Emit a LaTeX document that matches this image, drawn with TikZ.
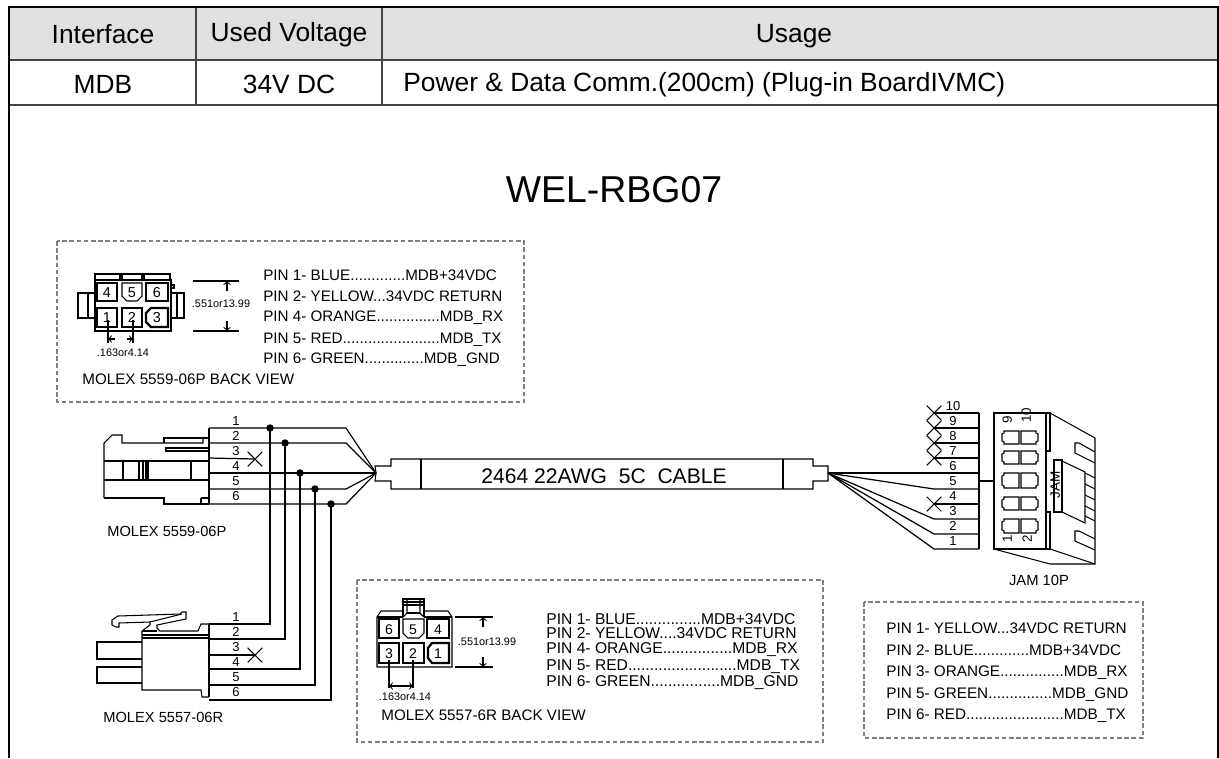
\documentclass[tikz,border=0pt]{standalone}
\usepackage{fontspec}
\setmainfont{Liberation Sans}
\usetikzlibrary{shapes.misc}
\definecolor{headgray}{HTML}{E0E0E0}
\definecolor{gridgray}{HTML}{444444}
\definecolor{dashgray}{HTML}{808080}
\tikzset{
  txt/.style={font=\fontsize{#1}{#1}\selectfont, inner sep=0pt, text height=0.72*#1pt, text depth=0pt},
  wire/.style={line width=0.7pt, black},
  body/.style={line width=0.6pt, black},
  heavy/.style={line width=1.3pt, black},
  dashbox/.style={dashgray, line width=1.3pt, dash pattern=on 2.6pt off 1.5pt},
  wiredot/.style={circle, fill=black, inner sep=0pt, minimum size=0.15cm},
  nocon/.style={cross out, draw=black, line width=0.6pt, inner sep=0pt, minimum size=0.27cm},
  gridline/.style={gridgray, line width=0.9pt}
}
\begin{document}
\begin{tikzpicture}[x=0.02cm,y=-0.02cm]
    \useasboundingbox (0,0) rectangle (1219,758);

    % Table head
    \fill[headgray] (9,7) rectangle (1218,60);
    \draw[gridline] (9,60) -- (1218,60);
    \draw[gridline] (9,105) -- (1218,105);
    \draw[gridline] (196,7) -- (196,105);
    \draw[gridline] (382,7) -- (382,105);
    \draw[black,line width=1.1pt] (9,758) -- (9,7) -- (1218,7) -- (1218,758);
    \node[txt=15] (headif) at (103,34) {Interface};
    \node[txt=15] (headvolt) at (289,32) {Used Voltage};
    \node[txt=15] (headuse) at (794,33) {Usage};
    \node[txt=15] (cellif) at (103,84) {MDB};
    \node[txt=15] (cellvolt) at (289,84) {34V DC};
    \node[txt=15,anchor=west] (celluse) at (403,82) {Power \& Data Comm.(200cm) (Plug-in BoardIVMC)};

    % Title
    \node[txt=21.3] (title) at (614,189) {WEL-RBG07};

    % Box for 5559 back view
    \draw[dashbox] (57,241) rectangle (524,402);
    \draw[body] (95,280) rectangle (171,331);
    \draw[body] (95,280) -- (95,274) -- (120,274) -- (120,280);
    \draw[body] (122,280) -- (122,274) -- (142,274) -- (142,280);
    \draw[body] (144,280) -- (144,274) -- (170,274) -- (170,280);
    \draw[body] (78,293) rectangle (95,318);
    \draw[body] (88,293) -- (88,318);
    \draw[body] (171,293) rectangle (184,318);
    \draw[body] (177,293) -- (177,318);
    \draw[body] (171,285) -- (174,285) -- (174,288) -- (171,288);
    \draw[heavy] (97,283) rectangle (117,301);
    \draw[heavy] (146,283) rectangle (168,301);
    \draw[heavy] (97,308) rectangle (117,327);
    \draw[body] (122,283) -- (142,283) -- (142,296) -- (137,301) -- (127,301) -- (122,296) -- cycle;
    \draw[body] (122,308) rectangle (142,327);
    \draw[heavy] (168,308) -- (168,327) -- (151,327) -- (146,322) -- (146,313) -- (151,308) -- cycle;
    \foreach \n/\x/\y in {4/107/292,5/132/292,6/157/292,1/107/317,2/132/317,3/157/317}
      \node[txt=8.2] (backa\n) at (\x,\y) {\n};
    \draw[body] (193,281) -- (239,281);
    \draw[body] (193,331) -- (239,331);
    \draw[body,->] (227,291) -- (227,281);
    \draw[body,->] (227,321) -- (227,331);
    \node[txt=6.2] (dimah) at (221,304) {.551or13.99};
    \draw[body] (108,320) -- (108,343);
    \draw[body] (133,320) -- (133,343);
    \draw[body,->] (115,339) -- (108,339);
    \draw[body,->] (127,339) -- (133,339);
    \node[txt=6.2] (dimaw) at (123,353) {.163or4.14};
    \node[txt=8.65,anchor=west] (pina1) at (263,275) {PIN 1- BLUE.............MDB+34VDC};
    \node[txt=8.65,anchor=west] (pina2) at (263,296) {PIN 2- YELLOW...34VDC RETURN};
    \node[txt=8.65,anchor=west] (pina4) at (263,316) {PIN 4- ORANGE...............MDB\_RX};
    \node[txt=8.65,anchor=west] (pina5) at (263,338) {PIN 5- RED.......................MDB\_TX};
    \node[txt=8.65,anchor=west] (pina6) at (263,358) {PIN 6- GREEN..............MDB\_GND};
    \node[txt=8.65,anchor=west] (backalabel) at (82,379) {MOLEX 5559-06P BACK VIEW};

    % Connector 5559-06P
    \draw[body] (209,428) -- (209,504);
    \draw[body] (164,443) -- (164,438) -- (209,438);
    \draw[body] (104,498) -- (104,443) -- (112,435) -- (122,435) -- (122,443) -- (203,443) -- (203,438);
    \draw[body] (209,451) -- (166,451) -- (166,448) -- (209,448);
    \draw[body] (104,461) -- (209,461);
    \draw[body] (104,480) -- (209,480);
    \draw[body] (123,461) -- (123,480);
    \draw[body] (191,461) -- (191,480);
    \draw[body] (139,461) rectangle (148,480);
    \draw[body] (143,461) -- (143,480);
    \draw[body] (146,461) -- (146,480);
    \draw[body] (104,498) -- (164,498) -- (164,504) -- (209,504);
    \draw[body] (201,498) -- (201,504);
    \draw[body] (201,498) -- (209,498);
    \node[txt=8.35,anchor=west] (uplabel) at (107,531) {MOLEX 5559-06P};

    % Cable
    \coordinate (hubl) at (376,473);
    \coordinate (hubr) at (828,473);
    \draw[body] (hubl) -- (375,466) -- (391,466) -- (391,459) -- (813,459) -- (813,466) -- (828,466) -- (hubr)
      -- (828,481) -- (813,481) -- (813,489) -- (391,489) -- (391,481) -- (375,481) -- cycle;
    \draw[body] (421,459) -- (421,489);
    \draw[body] (783,459) -- (783,489);
    \node[txt=12] (cable) at (604,476) {2464 22AWG\ \ 5C\ \ CABLE};

    % Wires between the two connectors
    \foreach \n/\wy/\ly/\dx/\kx in {1/428/624/270/346,2/443/639/285/346,4/473/669/300/346,5/489/685/315/346,6/504/700/331/346} {
      \coordinate (upw\n) at (209,\wy);
      \coordinate (upk\n) at (\kx,\wy);
      \node[wiredot] (dot\n) at (\dx,\wy) {};
      \coordinate (loc\n) at (\dx,\ly);
      \coordinate (low\n) at (209,\ly);
      \draw[wire] (upw\n) -- (dot\n.center) -- (upk\n) -- (hubl);
      \draw[wire] (dot\n.center) -- (loc\n) -- (low\n);
    }
    \coordinate (upw3) at (209,458);
    \node[nocon] (upx3) at (255,459) {};
    \draw[wire] (upw3) -- (upx3.center);
    \coordinate (low3) at (209,655);
    \node[nocon] (lox3) at (255,655) {};
    \draw[wire] (low3) -- (lox3.center);
    \foreach \n/\y in {1/421,2/436,3/451,4/466,5/481,6/496}
      \node[txt=7.4] (upn\n) at (236,\y) {\n};
    \foreach \n/\y in {1/617,2/632,3/647,4/662,5/677,6/692}
      \node[txt=7.4] (lon\n) at (236,\y) {\n};

    % Connector 5557-06R
    \draw[heavy] (209,624) -- (209,697);
    \draw[body] (209,624) -- (201,624) -- (198,631) -- (160,631) -- (157,628) -- (157,625) -- (186,619) -- (186,612) -- (182,612) -- (180,614) -- (118,616) -- (112,620) -- (112,625) -- (116,627) -- (119,627) -- (119,623) -- (150,622) -- (150,625) -- (142,631) -- (142,690) -- (201,690) -- (202,697) -- (209,697);
    \draw[body] (150,622) -- (182,614);
    \draw[body] (142,631) -- (157,631);
    \draw[body] (142,635) -- (209,635);
    \draw[body] (142,638) -- (209,638);
    \draw[body] (142,642) -- (97,642) -- (97,659) -- (142,659);
    \draw[body] (142,667) -- (97,667) -- (97,683) -- (142,683);
    \node[txt=8.35,anchor=west] (lolabel) at (103,717) {MOLEX 5557-06R};

    % Box for 5557 back view
    \draw[dashbox] (357,580) rectangle (823,742);
    \draw[body] (403,611) -- (381,611) -- (377,617) -- (377,667) -- (452,667) -- (452,617) -- (448,611) -- (424,611);
    \draw[body] (377,617) -- (403,617);
    \draw[body] (424,617) -- (452,617);
    \draw[body] (403,617) -- (403,599) -- (424,599) -- (424,617);
    \draw[body] (407,600) -- (407,613) -- (403,617);
    \draw[body] (420,600) -- (420,613) -- (424,617);
    \draw[body] (403,602) -- (424,602);
    \draw[body] (403,605) -- (424,605);
    \draw[body] (407,613) -- (420,613);
    \draw[heavy] (379,619) rectangle (399,638);
    \draw[heavy] (427,619) rectangle (449,638);
    \draw[heavy] (379,643) rectangle (399,663);
    \draw[body] (403,619) -- (424,619) -- (424,633) -- (419,638) -- (408,638) -- (403,633) -- cycle;
    \draw[body] (403,643) rectangle (424,663);
    \draw[heavy] (449,643) -- (449,663) -- (432,663) -- (428,658) -- (428,648) -- (432,643) -- cycle;
    \foreach \n/\x/\y in {6/389/629,5/413/629,4/438/629,3/389/653,2/413/653,1/438/653}
      \node[txt=8] (backb\n) at (\x,\y) {\n};
    \draw[body] (455,617) -- (493,617);
    \draw[body] (455,667) -- (493,667);
    \draw[body,->] (483,627) -- (483,617);
    \draw[body,->] (483,657) -- (483,667);
    \node[txt=6.2] (dimbh) at (487,642) {.551or13.99};
    \draw[body] (389,660) -- (389,688);
    \draw[body] (413,660) -- (413,688);
    \draw[body,<->] (389,686) -- (413,686);
    \node[txt=6.2] (dimbw) at (405,697) {.163or4.14};
    \node[txt=8.9,anchor=west] (pinb1) at (546,619) {PIN 1- BLUE...............MDB+34VDC};
    \node[txt=8.9,anchor=west] (pinb2) at (546,633) {PIN 2- YELLOW....34VDC RETURN};
    \node[txt=8.9,anchor=west] (pinb4) at (546,648) {PIN 4- ORANGE................MDB\_RX};
    \node[txt=8.9,anchor=west] (pinb5) at (546,665) {PIN 5- RED.........................MDB\_TX};
    \node[txt=8.9,anchor=west] (pinb6) at (546,681) {PIN 6- GREEN................MDB\_GND};
    \node[txt=8.65,anchor=west] (backblabel) at (381,715) {MOLEX 5557-6R BACK VIEW};

    % Wires to JAM 10P
    \draw[body] (979,413) -- (979,549);
    \foreach \n/\y in {10/413,9/428,8/443,7/458,4/504} {
      \node[nocon] (jamx\n) at (934,\y) {};
      \coordinate (jamw\n) at (979,\y);
      \draw[wire] (jamx\n.center) -- (jamw\n);
    }
    \coordinate (jamw6) at (979,473);
    \draw[wire] (hubr) -- (jamw6);
    \foreach \n/\y in {5/489,3/519,2/534,1/549} {
      \coordinate (jamk\n) at (934,\y);
      \coordinate (jamw\n) at (979,\y);
      \draw[wire] (hubr) -- (jamk\n) -- (jamw\n);
    }
    \foreach \n/\y in {10/406,9/421,8/436,7/451,6/466,5/481,4/496,3/511,2/526,1/541}
      \node[txt=7.4] (jamn\n) at (953,\y) {\n};

    % JAM 10P housing
    \coordinate (jamlink) at (994,481);
    \draw[body] (979,481) -- (jamlink);
    \draw[body] (994,413) rectangle (1046,549);
    \draw[body] (1046,413) -- (1050,413) -- (1050,451) -- (1046,451);
    \draw[body] (1046,512) -- (1050,512) -- (1050,549) -- (1046,549);
    \draw[body] (1050,413) -- (1095,438) -- (1095,564) -- (1050,564) -- (994,549);
    \draw[body] (1046,549) -- (1050,549) -- (1095,564);
    \draw[body] (1095,452) -- (1079,443) -- (1075,443) -- (1075,453) -- (1095,463);
    \draw[body] (1095,539) -- (1079,531) -- (1075,531) -- (1075,541) -- (1095,550);
    \draw[body] (1054,460) rectangle (1062,512);
    \draw[body] (1062,461) -- (1085,472) -- (1085,523) -- (1062,512);
    \foreach \y in {473,484,495,506,516}
      \draw[body] (1085,\y) -- (1095,\y+5);
    \foreach \ya/\yb in {431/444,451/464,473/488,497/510,519/533} {
      \draw[body] (1019,\ya) -- (1004,\ya) -- (1004,\ya+2) -- (1002,\ya+3) -- (1002,\yb-3) -- (1004,\yb-2) -- (1004,\yb) -- (1019,\yb) -- cycle;
      \draw[body] (1021,\ya) -- (1036,\ya) -- (1036,\ya+2) -- (1038,\ya+3) -- (1038,\yb-3) -- (1036,\yb-2) -- (1036,\yb) -- (1021,\yb) -- cycle;
    }
    \node[txt=7.6,rotate=90] (jamp9) at (1007,420) {9};
    \node[txt=7.6,rotate=90] (jamp10) at (1026,415) {10};
    \node[txt=7.6,rotate=90] (jamp1) at (1007,539) {1};
    \node[txt=7.6,rotate=90] (jamp2) at (1027,539) {2};
    \node[txt=7.7,rotate=90] (jamname) at (1055,485) {JAM};
    \node[txt=8.4] (jamlabel) at (1039,580) {JAM 10P};

    % Box for JAM pins
    \draw[dashbox] (864,602) rectangle (1143,738);
    \node[txt=8.7,anchor=west] (pinc1) at (886,628) {PIN 1- YELLOW...34VDC RETURN};
    \node[txt=8.7,anchor=west] (pinc2) at (886,650) {PIN 2- BLUE.............MDB+34VDC};
    \node[txt=8.7,anchor=west] (pinc3) at (886,671) {PIN 3- ORANGE...............MDB\_RX};
    \node[txt=8.7,anchor=west] (pinc5) at (886,693) {PIN 5- GREEN...............MDB\_GND};
    \node[txt=8.7,anchor=west] (pinc6) at (886,714) {PIN 6- RED.......................MDB\_TX};
  \end{tikzpicture}
\end{document}
